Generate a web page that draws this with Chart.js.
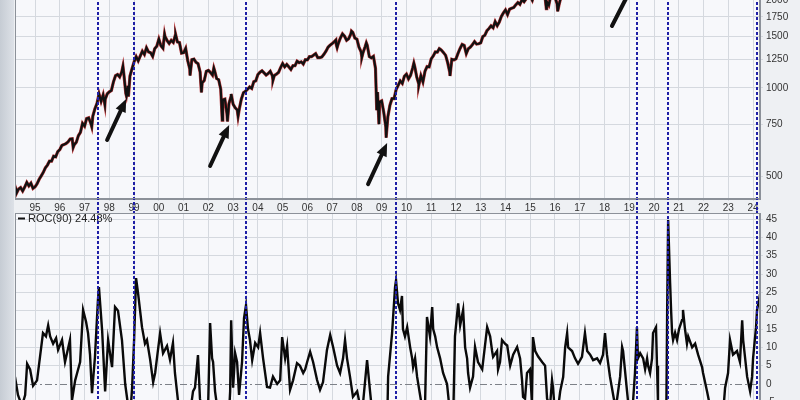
<!DOCTYPE html>
<html>
<head>
<meta charset="utf-8">
<script src="https://cdn.jsdelivr.net/npm/chart.js@4.4.1/dist/chart.umd.min.js"></script>
<style>
html, body { margin: 0; padding: 0; width: 800px; height: 400px; overflow: hidden; }
body { position: relative; background: linear-gradient(to right, #c6ccd4 0px, #dde1e7 14px, #eef0f3 14px); }
.pane { position: absolute; left: 14px; width: 786px; }
#pricePane { top: -39px; height: 252px; }
#rocPane { top: 211px; height: 260px; }
</style>
</head>
<body>
<div class="pane" id="pricePane"><canvas id="priceChart" width="786" height="252"></canvas></div>
<div class="pane" id="rocPane"><canvas id="rocChart" width="786" height="260"></canvas></div>
<script>
// S&P 500 month-end closes, Jan 1994 .. Mar 2024
const firstYear = 1994;
const spxMonthEnd = [
  481.6, 467.1, 445.8, 450.9, 456.5, 444.3, 458.3, 475.5, 462.7, 472.4, 453.7, 459.3,
  470.4, 487.4, 500.7, 514.7, 533.4, 544.8, 562.1, 561.9, 584.4, 581.5, 605.4, 615.9,
  636.0, 640.4, 645.5, 654.2, 669.1, 670.6, 639.9, 652.0, 687.3, 705.3, 757.0, 740.7,
  786.2, 790.8, 757.1, 801.3, 848.3, 885.1, 954.3, 899.5, 947.3, 914.6, 955.4, 970.4,
  980.3, 1049.3, 1101.8, 1111.8, 1090.8, 1133.8, 1120.7, 957.3, 1017.0, 1098.7, 1163.6, 1229.2,
  1279.6, 1238.3, 1286.4, 1335.2, 1301.8, 1372.7, 1328.7, 1320.4, 1282.7, 1362.9, 1388.9, 1469.3,
  1394.5, 1366.4, 1498.6, 1452.4, 1420.6, 1454.6, 1430.8, 1517.7, 1436.5, 1429.4, 1315.2, 1320.3,
  1366.0, 1239.9, 1160.3, 1249.5, 1255.8, 1224.4, 1211.2, 1133.6, 1040.9, 1059.8, 1139.5, 1148.1,
  1130.2, 1106.7, 1147.4, 1076.9, 1067.1, 989.8, 911.6, 916.1, 815.3, 885.8, 936.3, 879.8,
  855.7, 841.2, 848.2, 916.9, 963.6, 974.5, 990.3, 1008.0, 996.0, 1050.7, 1058.2, 1111.9,
  1131.1, 1144.9, 1126.2, 1107.3, 1120.7, 1140.8, 1101.7, 1104.2, 1114.6, 1130.2, 1173.8, 1211.9,
  1181.3, 1203.6, 1180.6, 1156.9, 1191.5, 1191.3, 1234.2, 1220.3, 1228.8, 1207.0, 1249.5, 1248.3,
  1280.1, 1280.7, 1294.8, 1310.6, 1270.1, 1270.2, 1276.7, 1303.8, 1335.9, 1377.9, 1400.6, 1418.3,
  1438.2, 1406.8, 1420.9, 1482.4, 1530.6, 1503.4, 1455.3, 1474.0, 1526.8, 1549.4, 1481.1, 1468.4,
  1378.6, 1330.6, 1322.7, 1385.6, 1400.4, 1280.0, 1267.4, 1282.8, 1166.4, 968.8, 896.2, 903.3,
  825.9, 735.1, 797.9, 872.8, 919.1, 919.3, 987.5, 1020.6, 1057.1, 1036.2, 1095.6, 1115.1,
  1073.9, 1104.5, 1169.4, 1186.7, 1089.4, 1030.7, 1101.6, 1049.3, 1141.2, 1183.3, 1180.6, 1257.6,
  1286.1, 1327.2, 1325.8, 1363.6, 1345.2, 1320.6, 1292.3, 1218.9, 1131.4, 1253.3, 1247.0, 1257.6,
  1312.4, 1365.7, 1408.5, 1397.9, 1310.3, 1362.2, 1379.3, 1406.6, 1440.7, 1412.2, 1416.2, 1426.2,
  1498.1, 1514.7, 1569.2, 1597.6, 1630.7, 1606.3, 1685.7, 1633.0, 1681.6, 1756.5, 1805.8, 1848.4,
  1782.6, 1859.5, 1872.3, 1884.0, 1923.6, 1960.2, 1930.7, 2003.4, 1972.3, 2018.1, 2067.6, 2058.9,
  1995.0, 2104.5, 2067.9, 2085.5, 2107.4, 2063.1, 2103.8, 1972.2, 1920.0, 2079.4, 2080.4, 2043.9,
  1940.2, 1932.2, 2059.7, 2065.3, 2097.0, 2098.9, 2173.6, 2171.0, 2168.3, 2126.2, 2199.0, 2238.8,
  2279, 2364, 2363, 2384, 2412, 2423, 2470, 2472, 2519, 2575, 2648, 2674,
  2824, 2714, 2641, 2648, 2705, 2718, 2816, 2902, 2914, 2712, 2760, 2507,
  2704, 2784, 2834, 2946, 2752, 2942, 2980, 2926, 2977, 3038, 3141, 3231,
  3226, 2954, 2585, 2912, 3044, 3100, 3271, 3500, 3363, 3270, 3622, 3756,
  3714, 3811, 3973, 4181, 4204, 4298, 4395, 4523, 4308, 4605, 4567, 4766,
  4516, 4374, 4530, 4132, 4132, 3785, 4130, 3955, 3586, 3872, 4080, 3840,
  4077, 3970, 4109, 4169, 4180, 4450, 4589, 4508, 4288, 4194, 4568, 4770,
  4846, 5096, 5254
];
// intramonth highs / lows
const extremeYears  = [1994.26, 1996.54, 1997.29, 1997.82, 1998.55, 1998.69, 1998.77, 2000.23, 2000.68, 2001.26,
                       2001.72, 2002.22, 2002.56, 2002.77, 2002.92, 2003.20, 2004.61, 2007.15, 2007.20, 2007.78,
                       2008.20, 2008.38, 2008.80, 2008.89, 2009.18, 2010.30, 2010.50, 2011.33, 2011.76, 2015.38,
                       2015.65, 2016.11];
const extremeValues = [438, 626, 737, 877, 1187, 940, 935, 1527, 1520, 1103,
                       966, 1170, 776, 768, 954, 800, 1063, 1459, 1374, 1565,
                       1273, 1426, 840, 752, 676, 1217, 1022, 1364, 1099, 2130,
                       1867, 1829];

// ROC(90)
const rocYears = [
  1994.19, 1994.31, 1994.47, 1994.60, 1994.68, 1994.80, 1994.92, 1995.08, 1995.20, 1995.32,
  1995.44, 1995.53, 1995.61, 1995.73, 1995.85, 1995.93, 1996.09, 1996.21, 1996.29, 1996.41,
  1996.49, 1996.62, 1996.70, 1996.82, 1996.94, 1997.06, 1997.14, 1997.22, 1997.30, 1997.42,
  1997.54, 1997.58, 1997.71, 1997.83, 1997.95, 1998.11, 1998.23, 1998.35, 1998.51, 1998.64,
  1998.76, 1998.84, 1998.92, 1999.00, 1999.08, 1999.16, 1999.32, 1999.44, 1999.52, 1999.65,
  1999.77, 1999.85, 1999.93, 2000.05, 2000.17, 2000.33, 2000.45, 2000.57, 2000.65, 2000.78,
  2000.94, 2001.14, 2001.26, 2001.38, 2001.46, 2001.58, 2001.66, 2001.83, 2001.99, 2002.07,
  2002.15, 2002.19, 2002.27, 2002.39, 2002.55, 2002.72, 2002.80, 2002.88, 2002.92, 2003.00,
  2003.08, 2003.16, 2003.24, 2003.36, 2003.44, 2003.52, 2003.60, 2003.68, 2003.77, 2003.89,
  2004.01, 2004.09, 2004.21, 2004.37, 2004.49, 2004.61, 2004.78, 2004.90, 2004.98, 2005.10,
  2005.18, 2005.30, 2005.42, 2005.58, 2005.70, 2005.83, 2005.91, 2005.99, 2006.11, 2006.23,
  2006.39, 2006.51, 2006.63, 2006.79, 2006.92, 2007.04, 2007.20, 2007.32, 2007.44, 2007.52,
  2007.60, 2007.72, 2007.84, 2008.01, 2008.13, 2008.25, 2008.41, 2008.53, 2008.65, 2008.81,
  2008.93, 2009.06, 2009.18, 2009.26, 2009.42, 2009.54, 2009.58, 2009.66, 2009.74, 2009.82,
  2009.86, 2009.94, 2010.03, 2010.15, 2010.23, 2010.27, 2010.35, 2010.43, 2010.55, 2010.67,
  2010.75, 2010.83, 2010.95, 2011.04, 2011.08, 2011.16, 2011.24, 2011.36, 2011.48, 2011.64,
  2011.76, 2011.88, 2011.96, 2012.09, 2012.17, 2012.29, 2012.37, 2012.45, 2012.49, 2012.57,
  2012.69, 2012.77, 2012.89, 2013.06, 2013.26, 2013.38, 2013.46, 2013.50, 2013.66, 2013.70,
  2013.78, 2013.86, 2013.98, 2014.07, 2014.19, 2014.31, 2014.47, 2014.59, 2014.67, 2014.71,
  2014.79, 2014.87, 2014.99, 2015.07, 2015.11, 2015.20, 2015.32, 2015.48, 2015.60, 2015.68,
  2015.80, 2015.88, 2015.92, 2016.00, 2016.08, 2016.21, 2016.33, 2016.41, 2016.49, 2016.53,
  2016.69, 2016.81, 2016.93, 2017.09, 2017.21, 2017.30, 2017.42, 2017.54, 2017.70, 2017.82,
  2017.94, 2018.02, 2018.10, 2018.22, 2018.35, 2018.43, 2018.51, 2018.63, 2018.71, 2018.75,
  2018.91, 2019.03, 2019.15, 2019.23, 2019.31, 2019.35, 2019.44, 2019.56, 2019.64, 2019.72,
  2019.76, 2019.84, 2019.92, 2019.96, 2020.08, 2020.12, 2020.16, 2020.20, 2020.24, 2020.33,
  2020.42, 2020.50, 2020.53, 2020.57, 2020.65, 2020.69, 2020.73, 2020.77, 2020.85, 2020.93,
  2021.01, 2021.13, 2021.17, 2021.25, 2021.33, 2021.38, 2021.54, 2021.66, 2021.78, 2021.94,
  2021.98, 2022.14, 2022.26, 2022.39, 2022.55, 2022.67, 2022.79, 2022.87, 2022.99, 2023.07,
  2023.19, 2023.35, 2023.47, 2023.56, 2023.60, 2023.76, 2023.88, 2023.96, 2024.00, 2024.12,
  2024.16, 2024.24, 2024.28
];
const rocValues = [
  1.9, -3, -6, -3, 5.5, 4, -0.5, 1, 7.4, 13.9,
  13, 16, 13, 11, 12.5, 9.3, 12, 6, 8.4, 12,
  -4.5, 1, 3, 6, 20.2, 17, 13.9, 8, -2.5, 7.4,
  22.9, 26.4, 14.5, -2, 12, 4.6, 21, 20, 12, 0,
  -6, -9, -1, 12, 28.9, 24.8, 15.5, 11, 12, 6.6,
  0.5, 3, 7.4, 13.9, 8.4, 10.4, 6.6, 11.2, 3, -5,
  -10, -14, -8, -2, -1, 7.9, -4, -10, -6, 16.6,
  7, 6, -2, -8, -15, -20, -12, -2, 17.4, -1,
  8.4, 6, -3, 6, 18, 21.5, 15, 12, 6.5, 11.2,
  10, 13.9, 7, -0.8, -1, 2, 0, 1, 12.8, 7,
  10.4, -1.6, 1, 5.7, 5, 3, 4, 6, 8.8, 6,
  1.1, -1.6, 0.5, 9.3, 13.4, 10, 5, 3, 7, 12,
  7, 2, -3.5, -2, -6, -5, 6.5, -2, -10, -20,
  -30, -40, -25, 2, 13.9, 26.4, 28.3, 22, 20.2, 24,
  15, 13, 15.5, 10, 7, 4.6, 7, 2, -3, -8,
  -6, 18.3, 13, 21, 15, 13, 10, 7, 3, 0,
  -8, -12, 13, 22, 16, 20.2, 10, 7, 3, -1,
  2, 10.1, 6, 4, 15.5, 13, 9, 7.4, 9, 4,
  6, 12, 11, 10.5, 5, 8, 10.1, 7, 1, -3.5,
  -4, 3, 4, -5, 12.8, 9, 7.5, 6, 5, -4,
  -6, 1.1, -1, -8, -9, -2, 1.9, 10, 13.9, 10,
  9, 7, 5.5, 7.4, 13.9, 9, 8, 6.5, 7, 5.7,
  8, 13.9, 8, 2, -3, -6, -4, 2, 10.1, 9,
  -2, -10, -5, 3, 15.5, 7, 8.4, 7, 4, 7,
  5, 3, 7, 13.9, 15.5, 5, -5, -20, -30, -18,
  -10, -5, 20, 44.7, 27.5, 20, 13.9, 12, 14, 12,
  15, 17.4, 20.2, 15, 11, 13, 10, 11, 8, 4.6,
  3, -2, -6, -12, -15, -18, -8, -1, 3, 12,
  8, 9, 6, 17.4, 12, 2, -2, 2, 7, 15.5,
  20.2, 22.9, 24.48
];

const yearTicks = [1995, 1996, 1997, 1998, 1999, 2000, 2001, 2002, 2003, 2004, 2005, 2006, 2007, 2008, 2009,
                   2010, 2011, 2012, 2013, 2014, 2015, 2016, 2017, 2018, 2019, 2020, 2021, 2022, 2023, 2024];
const priceTicks = [500, 750, 1000, 1250, 1500, 1750, 2000, 2250, 2500];
const rocTicks = [-20, -15, -10, -5, 0, 5, 10, 15, 20, 25, 30, 35, 40, 45];
const signalYears = [1997.54, 1999.0, 2003.52, 2009.58, 2019.31, 2020.57, 2024.16];

// arrows drawn on the price panel (data coordinates)
const arrowFromYear  = [1997.91, 2002.07, 2008.45, 2018.30];
const arrowFromPrice = [664, 541, 469, 1629];
const arrowToYear    = [1998.68, 2002.84, 2009.22, 2019.19];
const arrowToPrice   = [917, 747, 648, 2285];

const pricePoints = spxMonthEnd
  .map((v, i) => ({ x: firstYear + (i + 1) / 12, y: v }))
  .concat(extremeYears.map((x, i) => ({ x: x, y: extremeValues[i] })))
  .sort((a, b) => a.x - b.x);
const rocPoints = rocYears.map((x, i) => ({ x: x, y: rocValues[i] }));

const tickFont = { family: "'Liberation Sans', Arial, sans-serif", size: 10 };
const gridColor = '#d5d9df';
const xMin = 1994.19, xMax = 2024.28;

const plotBg = {
  id: 'plotBg',
  beforeDraw(chart) {
    const { ctx, chartArea: a } = chart;
    ctx.save();
    ctx.fillStyle = '#f7f8fb';
    ctx.fillRect(a.left, a.top, a.right - a.left, a.bottom - a.top);
    ctx.restore();
  },
  afterDraw(chart) {
    const { ctx, chartArea: a } = chart;
    ctx.save();
    ctx.strokeStyle = '#8c9199';
    ctx.lineWidth = 1;
    ctx.strokeRect(a.left + 0.5, a.top + 0.5, a.right - a.left - 1, a.bottom - a.top - 1);
    ctx.restore();
  }
};

function signalLines(id, toBottomOfCanvas) {
  return {
    id: id,
    afterDatasetsDraw(chart) {
      const { ctx, chartArea: a, scales: { x } } = chart;
      const y0 = toBottomOfCanvas ? a.top : 0;
      const y1 = toBottomOfCanvas ? chart.height : a.bottom;
      ctx.save();
      ctx.strokeStyle = '#1f1fa6';
      ctx.lineWidth = 2;
      ctx.setLineDash([3, 2]);
      signalYears.forEach(yr => {
        const px = Math.round(x.getPixelForValue(yr));
        ctx.beginPath();
        ctx.moveTo(px, y0);
        ctx.lineTo(px, y1);
        ctx.stroke();
      });
      ctx.restore();
    }
  };
}

const arrows = {
  id: 'arrows',
  afterDatasetsDraw(chart) {
    const { ctx, chartArea: a, scales: { x, y } } = chart;
    ctx.save();
    ctx.beginPath();
    ctx.rect(a.left, a.top, a.right - a.left, a.bottom - a.top);
    ctx.clip();
    ctx.fillStyle = '#111';
    ctx.strokeStyle = '#111';
    ctx.lineWidth = 4;
    ctx.lineCap = 'round';
    arrowFromYear.forEach((yr, i) => {
      const x0 = x.getPixelForValue(yr), y0 = y.getPixelForValue(arrowFromPrice[i]);
      const x1 = x.getPixelForValue(arrowToYear[i]), y1 = y.getPixelForValue(arrowToPrice[i]);
      const len = Math.hypot(x1 - x0, y1 - y0);
      const ux = (x1 - x0) / len, uy = (y1 - y0) / len;
      ctx.beginPath();
      ctx.moveTo(x0, y0);
      ctx.lineTo(x1 - ux * 9, y1 - uy * 9);
      ctx.stroke();
      ctx.beginPath();
      ctx.moveTo(x1, y1);
      ctx.lineTo(x1 - ux * 13 - uy * 5.5, y1 - uy * 13 + ux * 5.5);
      ctx.lineTo(x1 - ux * 13 + uy * 5.5, y1 - uy * 13 - ux * 5.5);
      ctx.closePath();
      ctx.fill();
    });
    ctx.restore();
  }
};

const zeroLine = {
  id: 'zeroLine',
  beforeDatasetsDraw(chart) {
    const { ctx, chartArea: a, scales: { y } } = chart;
    const py = Math.round(y.getPixelForValue(0)) + 0.5;
    ctx.save();
    ctx.strokeStyle = '#7d8188';
    ctx.lineWidth = 1;
    ctx.setLineDash([7, 3, 2, 3]);
    ctx.beginPath();
    ctx.moveTo(a.left, py);
    ctx.lineTo(a.right, py);
    ctx.stroke();
    ctx.restore();
  }
};

const rocLegend = {
  id: 'rocLegend',
  afterDatasetsDraw(chart) {
    const { ctx, chartArea: a } = chart;
    ctx.save();
    ctx.strokeStyle = '#111';
    ctx.lineWidth = 2;
    ctx.beginPath();
    ctx.moveTo(a.left + 3, a.top + 5.5);
    ctx.lineTo(a.left + 10, a.top + 5.5);
    ctx.stroke();
    ctx.fillStyle = '#222';
    ctx.font = "11px 'Liberation Sans', Arial, sans-serif";
    ctx.textBaseline = 'middle';
    ctx.fillText('ROC(90) 24.48%', a.left + 13, a.top + 6);
    ctx.restore();
  }
};

const xAxis = (showLabels, height) => ({
  type: 'linear',
  min: xMin,
  max: xMax,
  afterBuildTicks: s => { s.ticks = yearTicks.map(v => ({ value: v })); },
  afterFit: s => { s.height = height; s.paddingLeft = 0; s.paddingRight = 0; },
  ticks: {
    display: showLabels,
    autoSkip: false,
    maxRotation: 0,
    padding: 1,
    font: tickFont,
    color: '#333',
    callback: v => String(Math.round(v) % 100).padStart(2, '0')
  },
  grid: { color: gridColor, tickLength: 2 },
  border: { color: '#8c9199' }
});

const yFit = s => { s.width = 40; s.paddingTop = 0; s.paddingBottom = 0; };

new Chart(document.getElementById('priceChart').getContext('2d'), {
  type: 'line',
  data: {
    datasets: [
      { data: pricePoints, borderColor: '#111111', borderWidth: 2.2, pointRadius: 0, tension: 0 },
      { data: pricePoints, borderColor: '#b8383a', borderWidth: 3.2, pointRadius: 0, tension: 0 }
    ]
  },
  options: {
    responsive: false,
    animation: false,
    layout: { padding: { top: 6, left: 1, right: 0, bottom: 0 } },
    plugins: { legend: { display: false }, tooltip: { enabled: false } },
    scales: {
      x: xAxis(true, 14),
      y: {
        type: 'logarithmic',
        position: 'right',
        min: 417.2,
        max: 2592,
        afterBuildTicks: s => { s.ticks = priceTicks.map(v => ({ value: v })); },
        afterFit: yFit,
        ticks: { font: tickFont, color: '#333', padding: 3, callback: v => String(v) },
        grid: { color: gridColor, tickLength: 3 },
        border: { color: '#8c9199' }
      }
    }
  },
  plugins: [plotBg, arrows, signalLines('priceSignals', true)]
});

new Chart(document.getElementById('rocChart').getContext('2d'), {
  type: 'line',
  data: {
    datasets: [
      { data: rocPoints, borderColor: '#0a0a0a', borderWidth: 2.4, pointRadius: 0, tension: 0 }
    ]
  },
  options: {
    responsive: false,
    animation: false,
    layout: { padding: { top: 2, left: 1, right: 0, bottom: 0 } },
    plugins: { legend: { display: false }, tooltip: { enabled: false } },
    scales: {
      x: xAxis(false, 10),
      y: {
        type: 'linear',
        position: 'right',
        min: -21.0,
        max: 46.64,
        afterBuildTicks: s => { s.ticks = rocTicks.map(v => ({ value: v })); },
        afterFit: yFit,
        ticks: { font: tickFont, color: '#333', padding: 3, callback: v => String(v) },
        grid: { color: c => (c.tick && c.tick.value === 0) ? 'rgba(0,0,0,0)' : gridColor, tickLength: 3 },
        border: { color: '#8c9199' }
      }
    }
  },
  plugins: [plotBg, zeroLine, rocLegend, signalLines('rocSignals', false)]
});
</script>
</body>
</html>
